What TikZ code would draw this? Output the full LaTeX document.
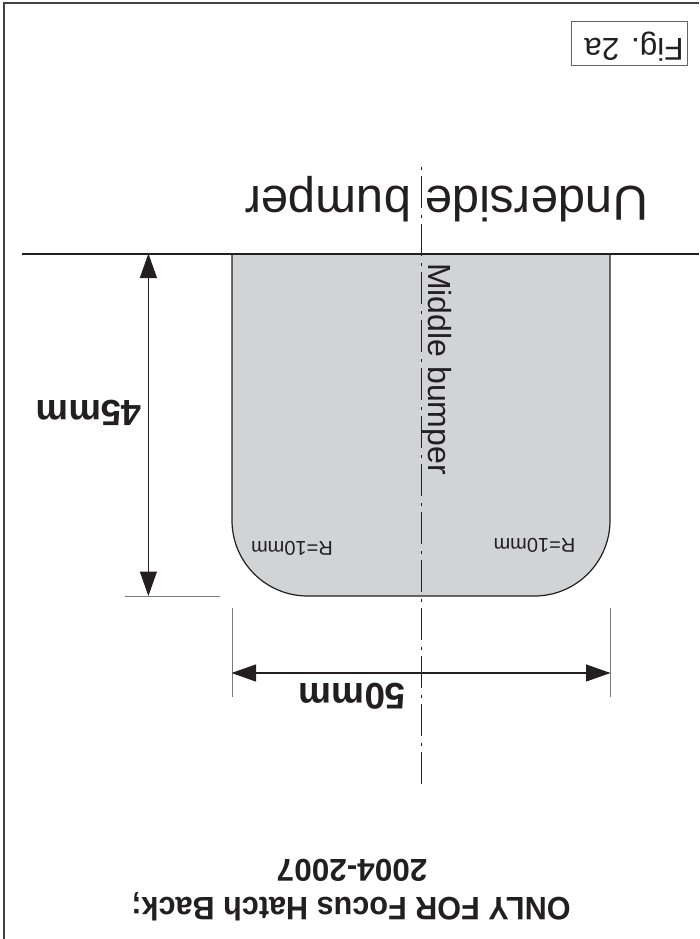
\documentclass[tikz,border=0pt]{standalone}
\usepackage{fontspec}
\setmainfont{Liberation Sans}
\usepackage{xcolor}
\usepackage{tikz}
\usetikzlibrary{arrows,arrows.meta,positioning,calc}
\definecolor{platefill}{HTML}{D1D3D4}
\definecolor{inkline}{HTML}{231F20}
\tikzset{flip/.style={rotate=180,anchor=base,inner sep=0pt,text=inkline}}
\tikzset{dimline/.style={draw=inkline,line width=1.1pt,{Triangle[length=24.5pt,width=17pt]}-{Triangle[length=24.5pt,width=17pt]}}}
\tikzset{extline/.style={draw=inkline!60,line width=1pt}}

\begin{document}
\begin{tikzpicture}[x=1pt,y=-1pt,auto,semithick]
        \useasboundingbox (0,0) rectangle (699,939);
        % corner points
        \coordinate (frameB) at (4.2,939);
        \coordinate (frameC) at (4.2,3.4);
        \coordinate (frameR) at (699,3.4);
        \coordinate (TL) at (232,254);
        \coordinate (BL) at (232,596);
        \coordinate (BR) at (610,596);
        \coordinate (TR) at (610,254);
        \coordinate (edgeL) at (22,254);
        \coordinate (edgeM) at (162,254);
        \coordinate (edgeR) at (699,254);
        \coordinate (axisT) at (421.5,166.5);
        \coordinate (axisB) at (421.5,785);
        \coordinate (hT) at (148.4,253.5);
        \coordinate (hB) at (148.4,596);
        \coordinate (hE1) at (124.5,596);
        \coordinate (hE2) at (220,596);
        \coordinate (wL) at (231.5,673);
        \coordinate (wR) at (610.5,673);
        \coordinate (eL1) at (232,608);
        \coordinate (eL2) at (232,697);
        \coordinate (eR1) at (610,608);
        \coordinate (eR2) at (610,697);
        % frame
        \draw[draw=inkline!85,line width=2pt] (frameB) -- (frameC) -- (frameR);
        % plate
        \draw[draw=inkline,fill=platefill,line width=1.2pt] (TL) [rounded corners=75.6pt] -- (BL) -- (BR) [sharp corners] -- (TR);
        % bumper edge
        \path (edgeL) edge[draw=inkline,line width=1.2pt] (edgeM);
        \path (edgeM) edge[draw=inkline,line width=2.8pt] (edgeR);
        % centre line
        \draw[draw=inkline,line width=1.3pt,dash pattern=on 3.5pt off 6pt on 32pt off 6.5pt] (axisT) -- (axisB);
        % dimensions
        \path (hE1) edge[extline] (hE2);
        \path (eL1) edge[extline] (eL2);
        \path (eR1) edge[extline] (eR2);
        \path (hT) edge[dimline] (hB);
        \path (wL) edge[dimline] (wR);
        % labels
        \node[draw=inkline!70,line width=0.9pt,minimum width=116pt,minimum height=44pt,inner sep=0pt] (figbox) at (629.2,43) {};
        \node[flip,font=\fontsize{31.5}{32}\selectfont] (figlabel) at (634,38.5) {Fig. 2a};
        \node[flip,font=\fontsize{49}{49}\selectfont] (underlabel) at (446.5,186.5) {Underside bumper};
        \node[rotate=-90,anchor=base,inner sep=0pt,text=inkline,font=\fontsize{32}{32}\selectfont] (midlabel) at (428,369) {Middle bumper};
        \node[flip,font=\fontsize{36.5}{37}\selectfont\bfseries] (hlabel) at (89.2,400) {45mm};
        \node[flip,font=\fontsize{37}{37}\selectfont\bfseries] (wlabel) at (352.5,683.5) {50mm};
        \node[flip,font=\fontsize{20}{20}\selectfont] (radL) at (292,541.7) {R=10mm};
        \node[flip,font=\fontsize{20}{20}\selectfont] (radR) at (534.5,538) {R=10mm};
        \node[flip,yscale=1.06,font=\fontsize{30.6}{31}\selectfont\bfseries] (title) at (351,897.5) {ONLY FOR Focus Hatch Back;};
        \node[flip,font=\fontsize{31.5}{32}\selectfont\bfseries] (years) at (352,859.5) {2004-2007};
\end{tikzpicture}
\end{document}
